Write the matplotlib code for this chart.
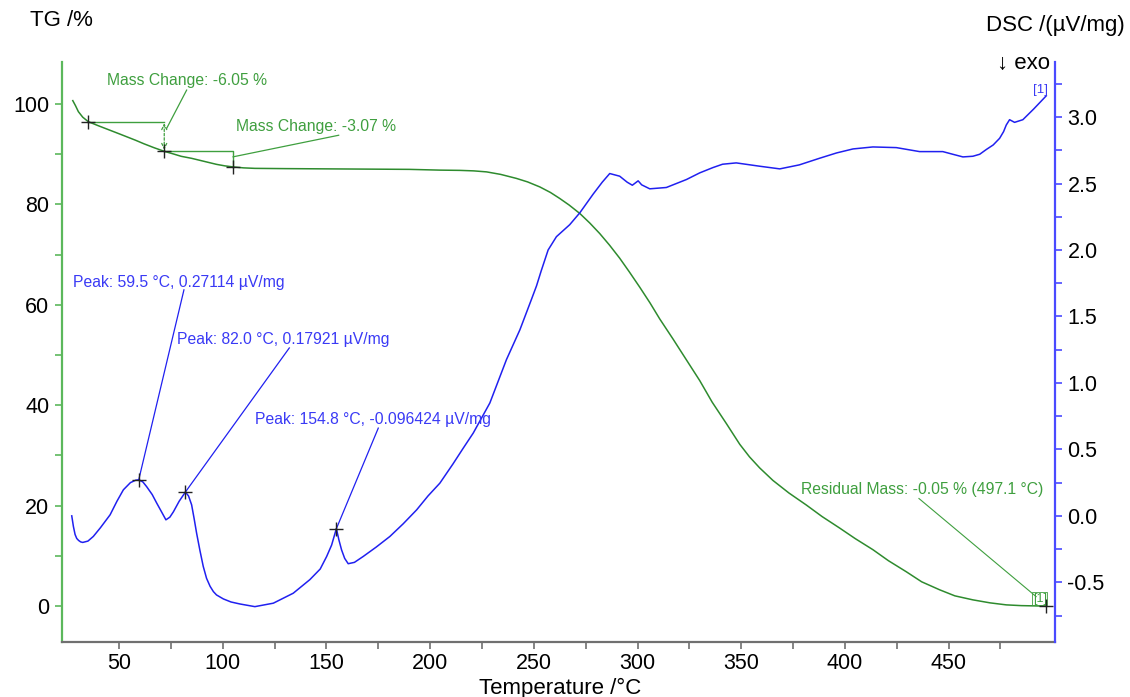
import matplotlib
matplotlib.use("Agg")
import matplotlib.pyplot as plt
from matplotlib.ticker import MultipleLocator, FixedLocator

plt.rcParams["font.family"] = ["Liberation Sans", "DejaVu Sans"]

GREEN = "#2e8b2e"
GREEN_TXT = "#3f9f3f"
GREEN_AX = "#5cb85c"
BLUE = "#2020f0"
BLUE_TXT = "#3a3af5"
BLUE_AX = "#4a4aff"

# TG curve (mass %, vs temperature in °C)
tg_temp = [27.7, 29.0, 30.4, 32.5, 35.2, 40, 45, 50, 53.7, 58, 62, 67, 71.8, 76, 80,
           85, 89, 93, 97, 101, 104.8, 110, 115.5, 130, 150, 170, 190, 204.7, 214.3,
           221, 227.2, 234, 241.6, 247, 252.9, 258, 262.5, 267, 272.2, 277, 281.8,
           286.5, 291.4, 296, 301.1, 306, 310.7, 317.1, 323, 330, 336, 342.9, 349.3,
           354, 358.9, 365.3, 373, 381.4, 389, 397.5, 405, 413.5, 421, 429.6, 437,
           445.7, 453, 461.7, 470, 477.8, 485, 491, 497.1]
tg_mass = [100.7, 99.7, 98.5, 97.4, 96.5, 95.7, 94.9, 94.1, 93.5, 92.8, 92.1, 91.3, 90.6,
           90.1, 89.6, 89.2, 88.8, 88.4, 88.0, 87.7, 87.5, 87.3, 87.2, 87.15, 87.1, 87.05,
           87.0, 86.85, 86.8, 86.7, 86.5, 86.0, 85.2, 84.5, 83.5, 82.4, 81.2, 79.9, 78.2,
           76.3, 74.2, 71.9, 69.3, 66.6, 63.5, 60.4, 57.2, 53.2, 49.4, 44.9, 40.6, 36.3,
           32.2, 29.7, 27.5, 25.0, 22.5, 20.1, 17.8, 15.5, 13.4, 11.2, 9.0, 6.8, 4.8,
           3.2, 2.0, 1.2, 0.6, 0.2, 0.05, 0.0, -0.05]

# DSC curve (µV/mg)
dsc_temp = [27.2, 28.0, 28.8, 29.6, 30.5, 31.5, 32.5, 35, 37.6, 41, 45.7, 49, 52.1,
            55.5, 58, 59.5, 61.5, 63.3, 66, 68.2, 70.5, 72.6, 74.5, 76.2, 79, 82.0,
            83.5, 85, 86.2, 87.4, 89, 90.6, 92.2, 93.9, 95.5, 97, 100.3, 104, 108.3,
            115.5, 124.4, 134, 142, 147, 150.1, 152.5, 154.8, 156, 157.3, 158.8,
            160.5, 163.5, 167.7, 174, 180.6, 187, 193.5, 199, 204.7, 211, 216, 220.8,
            228.8, 236.8, 243.3, 248.9, 251.3, 253.5, 256.9, 260.9, 267.3, 272.2,
            278.6, 283, 286.6, 291.4, 295, 297.5, 300.3, 302, 305.9, 313.9, 323.6, 330,
            336.4, 341, 347.6, 358.9, 368.6, 378, 387.8, 396, 403.9, 413.5, 424.8, 436,
            447.2, 452, 456.9, 461.7, 465, 468.2, 471.5, 474.6, 476.5, 477.8, 479.4,
            481.8, 485.8, 491, 497.1]
dsc_val = [0.0, -0.08, -0.14, -0.17, -0.185, -0.196, -0.2, -0.19, -0.155, -0.09, 0.008,
           0.11, 0.196, 0.25, 0.268, 0.271, 0.255, 0.22, 0.16, 0.095, 0.03, -0.03, -0.01,
           0.03, 0.11, 0.179, 0.15, 0.083, -0.02, -0.13, -0.26, -0.38, -0.47, -0.53,
           -0.57, -0.595, -0.625, -0.648, -0.663, -0.683, -0.657, -0.582, -0.48, -0.40,
           -0.306, -0.22, -0.096, -0.18, -0.256, -0.32, -0.36, -0.35, -0.306, -0.235,
           -0.155, -0.06, 0.045, 0.15, 0.246, 0.39, 0.51, 0.623, 0.849, 1.175, 1.40,
           1.63, 1.73, 1.84, 2.0, 2.10, 2.19, 2.28, 2.42, 2.51, 2.575, 2.555, 2.51, 2.487,
           2.52, 2.49, 2.46, 2.47, 2.53, 2.58, 2.62, 2.645, 2.655, 2.63, 2.61, 2.64, 2.69,
           2.73, 2.76, 2.775, 2.77, 2.74, 2.74, 2.72, 2.70, 2.705, 2.72, 2.756, 2.79,
           2.84, 2.89, 2.94, 2.98, 2.96, 2.98, 3.06, 3.16]

# evaluation points
tg_mark_t = [35.2, 71.8, 104.8, 497.1]
tg_mark_v = [96.5, 90.6, 87.5, -0.05]
peak_t = [59.5, 82.0, 154.8]
peak_v = [0.27114, 0.17921, -0.096424]
peak_labels = ["Peak: 59.5 °C, 0.27114 µV/mg",
               "Peak: 82.0 °C, 0.17921 µV/mg",
               "Peak: 154.8 °C, -0.096424 µV/mg"]
peak_text_pos = [(27.7, 1.757), (77.8, 1.33), (115.5, 0.723)]
peak_leader_start = [(81.3, 1.70), (132.1, 1.263), (175.0, 0.66)]

fig = plt.figure(figsize=(11.3, 6.97), dpi=100)
ax = fig.add_axes([62 / 1130, 1 - 642 / 697, (1055 - 62) / 1130, (642 - 62) / 697])
ax2 = ax.twinx()

ax.set_xlim(22.5, 501.3)
ax.set_ylim(-7.2, 108.4)
ax2.set_ylim(-0.949, 3.414)

ax.plot(tg_temp, tg_mass, color=GREEN, lw=1.1, zorder=3)
ax2.plot(dsc_temp, dsc_val, color=BLUE, lw=1.1, zorder=3)

# mass change steps
ax.plot([tg_mark_t[0], tg_mark_t[1]], [tg_mark_v[0], tg_mark_v[0]], color=GREEN_TXT, lw=1.0)
ax.annotate("", xy=(tg_mark_t[1], tg_mark_v[1] + 0.3), xytext=(tg_mark_t[1], tg_mark_v[0] - 0.3),
            arrowprops=dict(arrowstyle="<->", color=GREEN_TXT, lw=0.9, ls=(0, (2, 1.5)),
                            shrinkA=0, shrinkB=0, mutation_scale=9))
ax.plot([tg_mark_t[1], tg_mark_t[2], tg_mark_t[2]],
        [tg_mark_v[1], tg_mark_v[1], tg_mark_v[2]], color=GREEN_TXT, lw=1.0)
ax.plot([82.6, 73.0], [102.8, 95.2], color=GREEN_TXT, lw=0.9)
ax.plot([155.9, 105.0], [93.8, 89.5], color=GREEN_TXT, lw=0.9)
ax.text(44.1, 104.8, "Mass Change: -6.05 %", color=GREEN_TXT, fontsize=11.3,
        ha="left", va="center")
ax.text(106.4, 95.5, "Mass Change: -3.07 %", color=GREEN_TXT, fontsize=11.3,
        ha="left", va="center")

# residual mass
ax.plot([435.7, 492.2], [21.4, 1.85], color=GREEN_TXT, lw=0.8)
ax.text(378.8, 23.2, "Residual Mass: -0.05 % (497.1 °C)", color=GREEN_TXT, fontsize=11.3,
        ha="left", va="center")
ax.text(494.0, 1.4, "[1]", color=GREEN_TXT, fontsize=9, ha="center", va="center",
        bbox=dict(boxstyle="square,pad=0.05", fc="none", ec=GREEN_TXT, lw=0.6))

ax.plot(tg_mark_t, tg_mark_v, ls="none", marker="+", ms=10, mew=1.0, color="#222222", zorder=5)

# DSC peaks
ax2.plot(peak_t, peak_v, ls="none", marker="+", ms=10, mew=1.0, color="#222222", zorder=5)
for lab, (tx, ty), (lx, ly), px, pv in zip(peak_labels, peak_text_pos, peak_leader_start,
                                         peak_t, peak_v):
    ax2.text(tx, ty, lab, color=BLUE_TXT, fontsize=11.3, ha="left", va="center")
    ax2.plot([lx, px], [ly, pv], color=BLUE, lw=0.9)
ax2.text(494.2, 3.2, "[1]", color=BLUE_TXT, fontsize=9.5, ha="center", va="center")

# spines and ticks
for a in (ax, ax2):
    a.spines["top"].set_visible(False)
ax.spines["right"].set_visible(False)
ax2.spines["left"].set_visible(False)
ax2.spines["bottom"].set_visible(False)
ax.spines["left"].set_color(GREEN_AX)
ax.spines["left"].set_linewidth(1.6)
ax.spines["bottom"].set_color("#707070")
ax.spines["bottom"].set_linewidth(1.6)
ax2.spines["right"].set_color(BLUE_AX)
ax2.spines["right"].set_linewidth(1.6)

ax.set_xticks([50, 100, 150, 200, 250, 300, 350, 400, 450])
ax.xaxis.set_minor_locator(FixedLocator([75, 125, 175, 225, 275, 325, 375, 425, 475]))
ax.set_yticks([0, 20, 40, 60, 80, 100])
ax.yaxis.set_minor_locator(MultipleLocator(10))
ax2.set_yticks([-0.5, 0.0, 0.5, 1.0, 1.5, 2.0, 2.5, 3.0])
ax2.set_yticklabels(["-0.5", "0.0", "0.5", "1.0", "1.5", "2.0", "2.5", "3.0"])
ax2.yaxis.set_minor_locator(MultipleLocator(0.25))

ax.tick_params(axis="x", which="both", direction="out", color="#707070", labelsize=15.5,
               length=5, width=1.2, pad=3)
ax.tick_params(axis="y", which="both", direction="out", color=GREEN_AX, labelsize=15.5,
               length=5, width=1.2, pad=4)
ax2.tick_params(axis="y", which="both", direction="out", color=BLUE_AX, labelsize=15.5,
                length=5, width=1.2, pad=4)

fig.text(560 / 1130, 1 - 688 / 697, "Temperature /°C", fontsize=16, ha="center", va="center")
fig.text(30 / 1130, 1 - 20 / 697, "TG /%", fontsize=16, ha="left", va="center")
fig.text(1125 / 1130, 1 - 25 / 697, "DSC /(µV/mg)", fontsize=16, ha="right", va="center")
fig.text(1050 / 1130, 1 - 63 / 697, "↓ exo", fontsize=16, ha="right", va="center")

fig.savefig("out.png", dpi=100)
